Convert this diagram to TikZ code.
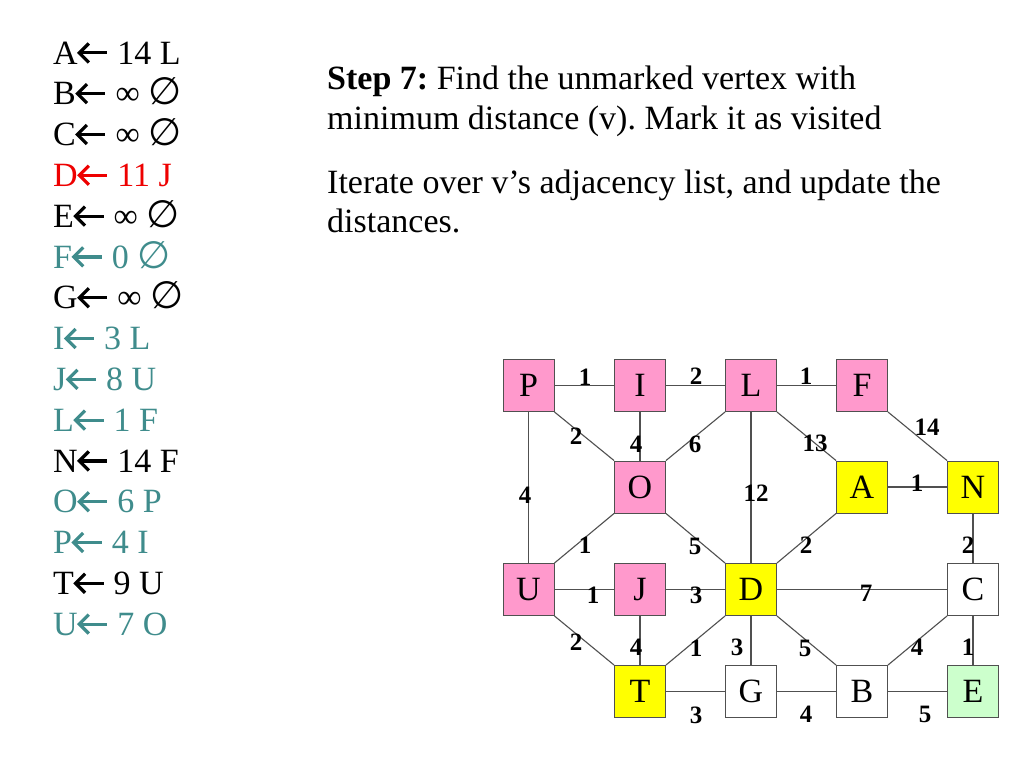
\documentclass[tikz,border=0pt]{standalone}
\usepackage{fontspec}
\setmainfont{Liberation Serif}
\newfontfamily\symfont{DejaVu Sans}
\definecolor{tealc}{HTML}{3F8C8C}
\definecolor{redc}{HTML}{EE0000}
\definecolor{pinkc}{HTML}{FF99CC}
\definecolor{yellowc}{HTML}{FFFF00}
\definecolor{greenc}{HTML}{CCFFCC}
\definecolor{linec}{HTML}{505050}
\newsavebox\arrboxK
\newsavebox\arrboxR
\newsavebox\arrboxT
\newcommand\arrowdraw{\begin{pgfpicture}
\pgfsetlinewidth{3.2pt}
\pgfpathmoveto{\pgfpoint{1.5pt}{11pt}}\pgfpathlineto{\pgfpoint{29pt}{11pt}}\pgfusepath{stroke}
\pgfsetmiterjoin
\pgfpathmoveto{\pgfpoint{10.5pt}{20.5pt}}\pgfpathlineto{\pgfpoint{1pt}{11pt}}\pgfpathlineto{\pgfpoint{10.5pt}{1.5pt}}\pgfusepath{stroke}
\end{pgfpicture}}
\newcommand\larr{\usebox\arrboxK}
\newcommand\larrR{\usebox\arrboxR}
\newcommand\larrT{\usebox\arrboxT}
\newcommand\infsym{{\symbol{"221E}}}
\newcommand\emptysym{{\symfont\fontsize{38}{38}\selectfont\symbol{"2205}}}
\begin{document}
\frenchspacing
\sbox\arrboxK{\color{black}\arrowdraw}
\sbox\arrboxR{\color{redc}\arrowdraw}
\sbox\arrboxT{\color{tealc}\arrowdraw}
\begin{tikzpicture}[x=1pt,y=-1pt,
  box/.style={draw=linec, line width=0.9pt, minimum width=51pt, minimum height=52pt, inner sep=0pt, font=\fontsize{34}{34}\selectfont},
  pink/.style={box, fill=pinkc},
  yel/.style={box, fill=yellowc},
  wht/.style={box, fill=white},
  grn/.style={box, fill=greenc},
  lbl/.style={inner sep=0pt, font=\fontsize{25}{25}\selectfont\bfseries},
  lst/.style={anchor=base west, inner sep=0pt, font=\fontsize{34}{34}\selectfont},
  ttl/.style={anchor=base west, inner sep=0pt, font=\fontsize{34}{34}\selectfont},
  edge/.style={draw=linec, line width=1.1pt}]
\useasboundingbox[fill=white] (0,0) rectangle (1024,768);

% list
\node[lst] (r1) at (53,64) {A\larr{} 14 L};
\node[lst] (r2) at (53,104.8) {B\larr{} \infsym{} \emptysym};
\node[lst] (r3) at (53,145.6) {C\larr{} \infsym{} \emptysym};
\node[lst, text=redc] (r4) at (53,186.4) {D\larrR{} 11 J};
\node[lst] (r5) at (53,227.2) {E\larr{} \infsym{} \emptysym};
\node[lst, text=tealc] (r6) at (53,268) {F\larrT{} 0 \emptysym};
\node[lst] (r7) at (53,308.8) {G\larr{} \infsym{} \emptysym};
\node[lst, text=tealc] (r8) at (53,349.6) {I\larrT{} 3 L};
\node[lst, text=tealc] (r9) at (53,390.4) {J\larrT{} 8 U};
\node[lst, text=tealc] (r10) at (53,431.2) {L\larrT{} 1 F};
\node[lst] (r11) at (53,472) {N\larr{} 14 F};
\node[lst, text=tealc] (r12) at (53,512.8) {O\larrT{} 6 P};
\node[lst, text=tealc] (r13) at (53,553.6) {P\larrT{} 4 I};
\node[lst] (r14) at (53,594.4) {T\larr{} 9 U};
\node[lst, text=tealc] (r15) at (53,635.2) {U\larrT{} 7 O};

% title
\node[ttl] (t1) at (327,89) {\textbf{Step 7:} Find the unmarked vertex with};
\node[ttl] (t2) at (327,129) {minimum distance (v). Mark it as visited};
\node[ttl] (t3) at (327,193) {Iterate over v’s adjacency list, and update the};
\node[ttl] (t4) at (327,232) {distances.};

% graph nodes
\node[pink] (P) at (528.5,385.5) {P};
\node[pink] (I) at (640,385.5) {I};
\node[pink] (L) at (751,385.5) {L};
\node[pink] (F) at (862,385.5) {F};
\node[pink] (O) at (640,487) {O};
\node[yel] (A) at (862,487) {A};
\node[yel] (N) at (973,487) {N};
\node[pink] (U) at (528.5,589.5) {U};
\node[pink] (J) at (640,589.5) {J};
\node[yel] (D) at (751,589.5) {D};
\node[wht] (C) at (973,589.5) {C};
\node[yel] (T) at (640,691.5) {T};
\node[wht] (G) at (751,691.5) {G};
\node[wht] (B) at (862,691.5) {B};
\node[grn] (E) at (973,691.5) {E};

% edges
\path[edge] (P) -- (I);
\path[edge] (I) -- (L);
\path[edge] (L) -- (F);
\path[edge] (F.south east) -- (N.north west);
\path[edge] (P.south east) -- (O.north west);
\path[edge] (I) -- (O);
\path[edge] (L.south west) -- (O.north east);
\path[edge] (L.south east) -- (A.north west);
\path[edge] (L) -- (D);
\path[edge] (P) -- (U);
\path[edge] (A) -- (N);
\path[edge] (O.south west) -- (U.north east);
\path[edge] (O.south east) -- (D.north west);
\path[edge] (D.north east) -- (A.south west);
\path[edge] (N) -- (C);
\path[edge] (U) -- (J);
\path[edge] (J) -- (D);
\path[edge] (D) -- (C);
\path[edge] (U.south east) -- (T.north west);
\path[edge] (J) -- (T);
\path[edge] (T.north east) -- (D.south west);
\path[edge] (D) -- (G);
\path[edge] (D.south east) -- (B.north west);
\path[edge] (B.north east) -- (C.south west);
\path[edge] (C) -- (E);
\path[edge] (T) -- (G);
\path[edge] (G) -- (B);
\path[edge] (B) -- (E);

% edge labels
\node[lbl] (w1) at (585,377) {1};
\node[lbl] (w2) at (696,376) {2};
\node[lbl] (w3) at (806,376) {1};
\node[lbl] (w4) at (927,427) {14};
\node[lbl] (w5) at (576,436) {2};
\node[lbl] (w6) at (636,444) {4};
\node[lbl] (w7) at (695,444) {6};
\node[lbl] (w8) at (815,443) {13};
\node[lbl] (w9) at (756,493) {12};
\node[lbl] (w10) at (525,495) {4};
\node[lbl] (w11) at (917,483) {1};
\node[lbl] (w12) at (585,545) {1};
\node[lbl] (w13) at (695,546) {5};
\node[lbl] (w14) at (806,545) {2};
\node[lbl] (w15) at (968,545) {2};
\node[lbl] (w16) at (593,595) {1};
\node[lbl] (w17) at (696,595) {3};
\node[lbl] (w18) at (866,593) {7};
\node[lbl] (w19) at (576,642) {2};
\node[lbl] (w20) at (636,647) {4};
\node[lbl] (w21) at (696,648) {1};
\node[lbl] (w22) at (737,647) {3};
\node[lbl] (w23) at (805,648) {5};
\node[lbl] (w24) at (917,647) {4};
\node[lbl] (w25) at (968,647) {1};
\node[lbl] (w26) at (696,715) {3};
\node[lbl] (w27) at (806,714) {4};
\node[lbl] (w28) at (925,714) {5};
\end{tikzpicture}
\end{document}
